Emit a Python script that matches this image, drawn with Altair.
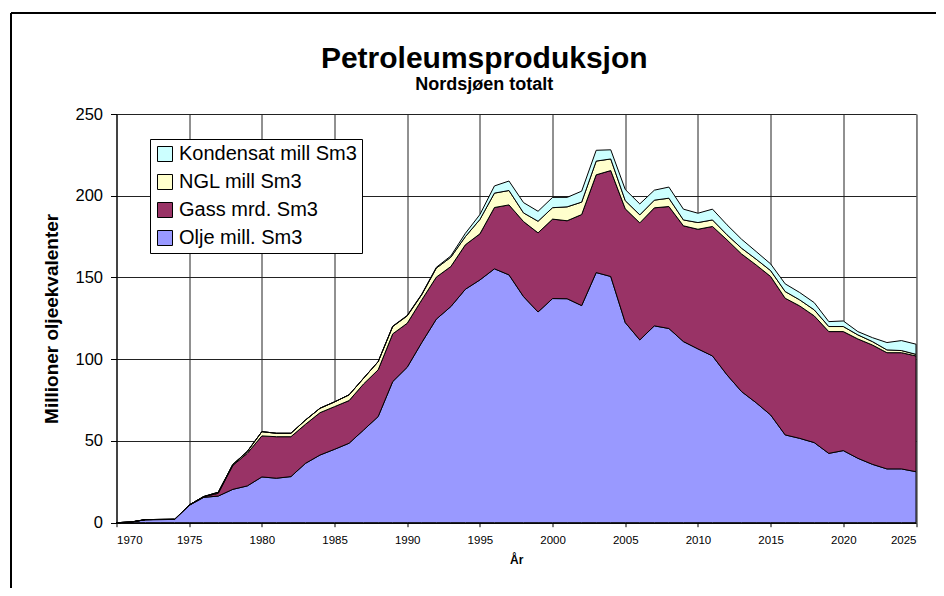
import altair as alt
import pandas as pd

years = list(range(1970, 2026))

olje = [0, 0.4, 1.8, 1.9, 2.0, 10.6, 15.5, 16.3, 20.4, 22.5,
        28.0, 27.2, 28.2, 36.3, 41.4, 44.9, 48.6, 56.7, 64.9, 86.3,
        95.1, 110.2, 124.5, 132.2, 142.8, 148.5, 155.3, 151.6, 138.3, 128.9,
        137.1, 137.0, 132.8, 153.0, 150.6, 122.4, 111.8, 120.4, 118.8, 110.8,
        106.3, 102.0, 90.4, 80.2, 73.4, 65.9, 53.7, 51.6, 49.0, 42.4,
        44.1, 39.4, 35.7, 32.9, 32.9, 31.2]
gass = [0, 0, 0.1, 0.1, 0.1, 0.2, 0.4, 1.7, 14.6, 20.0,
        25.1, 25.4, 24.4, 23.9, 25.9, 26.1, 26.1, 28.2, 28.6, 29.2,
        26.9, 26.1, 25.7, 24.5, 27.2, 28.2, 37.5, 42.8, 45.9, 48.4,
        48.6, 47.7, 55.7, 59.8, 64.8, 69.6, 71.6, 72.2, 74.6, 70.8,
        73.2, 79.2, 82.6, 84.2, 84.3, 84.7, 83.6, 81.0, 77.5, 74.5,
        72.8, 73.0, 73.0, 71.1, 71.1, 70.8]
ngl = [0, 0, 0, 0, 0, 0, 0.1, 0.6, 0.6, 1.1,
       2.6, 2.1, 2.1, 2.6, 2.7, 2.9, 3.5, 3.5, 5.0, 4.5,
       4.5, 3.2, 5.5, 5.7, 5.0, 8.8, 8.8, 8.8, 5.3, 7.1,
       7.0, 8.5, 7.6, 8.4, 7.1, 5.0, 4.9, 4.7, 5.1, 3.6,
       4.1, 4.0, 3.1, 3.5, 3.5, 3.6, 4.1, 3.7, 3.7, 3.1,
       3.1, 2.5, 2.1, 1.7, 1.3, 1.0]
kondensat = [0, 0, 0, 0, 0, 0, 0, 0, 0, 0,
             0, 0, 0, 0, 0, 0, 0, 0, 0, 0.2,
             0.3, 0.3, 0.5, 0.8, 2.0, 3.0, 4.4, 5.8, 6.3, 6.1,
             6.3, 5.8, 6.7, 6.6, 5.6, 6.8, 6.7, 6.1, 6.8, 6.6,
             5.7, 6.6, 6.1, 5.5, 4.7, 4.1, 4.7, 4.5, 4.4, 3.0,
             3.4, 2.0, 2.4, 4.5, 6.1, 6.2]

series_names = ["Olje mill. Sm3", "Gass mrd. Sm3", "NGL mill Sm3", "Kondensat mill Sm3"]
series_colors = ["#9999FF", "#993366", "#FFFFCC", "#CCFFFF"]
x_ticks = list(range(1970, 2030, 5))
y_ticks = [0, 50, 100, 150, 200, 250]

rows = []
for rank, (name, vals) in enumerate(zip(series_names, [olje, gass, ngl, kondensat])):
    for yr, v in zip(years, vals):
        rows.append({"År": yr, "serie": name, "verdi": v, "rank": rank})
df = pd.DataFrame(rows)

FONT = "Liberation Sans"

legend_order = series_names[::-1]
legend_colors = series_colors[::-1]

areas = alt.Chart(df).mark_area(
    stroke="black", strokeWidth=1, opacity=1, interpolate="linear"
).encode(
    x=alt.X("År:Q",
            scale=alt.Scale(domain=[1970, 2025], nice=False, zero=False),
            axis=alt.Axis(values=x_ticks, format="d", title="År",
                          labelFontSize=11.5, labelColor="black", labelFont=FONT,
                          tickSize=4, tickColor="black", labelPadding=8,
                          domainColor="black", gridColor="#222222", gridWidth=1,
                          titleFont=FONT, titleFontSize=12, titleFontWeight="bold",
                          titleColor="black", titlePadding=8)),
    y=alt.Y("verdi:Q", stack="zero",
            scale=alt.Scale(domain=[0, 250], nice=False),
            axis=alt.Axis(values=y_ticks, title="Millioner oljeekvalenter",
                          labelFontSize=16.5, labelColor="black", labelFont=FONT,
                          tickSize=6, tickColor="black", labelPadding=8,
                          domainColor="black", gridColor="#222222", gridWidth=1,
                          titleFont=FONT, titleFontSize=19, titleFontWeight="bold",
                          titleColor="black", titlePadding=13)),
    color=alt.Color("serie:N",
                    scale=alt.Scale(domain=legend_order, range=legend_colors),
                    legend=alt.Legend(orient="none", legendX=33.5, legendY=25,
                                      title=None, fillColor="white",
                                      strokeColor="black", padding=5,
                                      symbolType="square", symbolSize=225,
                                      symbolStrokeColor="black", symbolStrokeWidth=1,
                                      symbolOpacity=1, labelFontSize=20,
                                      labelLimit=500,
                                      labelFont=FONT, labelColor="black",
                                      labelOffset=4, rowPadding=8)),
    order=alt.Order("rank:Q", sort="ascending"),
)

one = pd.DataFrame({"a": [0]})
frame_top = alt.Chart(one).mark_rule(color="black", strokeWidth=2).encode(
    x=alt.value(-105.5), x2=alt.value(819.5), y=alt.value(-101))
frame_left = alt.Chart(one).mark_rule(color="black", strokeWidth=2).encode(
    x=alt.value(-105.5), y=alt.value(-101), y2=alt.value(474))

chart = alt.layer(areas, frame_top, frame_left).properties(
    width=799.5, height=408.7,
    autosize=alt.AutoSizeParams(type="none"),
    padding={"left": 108.5, "top": 106, "right": 20, "bottom": 65.3},
    title=alt.TitleParams(
        text="Petroleumsproduksjon", subtitle="Nordsjøen totalt",
        font=FONT, fontSize=30, fontWeight="bold", color="black",
        subtitleFont=FONT, subtitleFontSize=18, subtitleFontWeight="bold",
        subtitleColor="black", subtitlePadding=2, anchor="middle",
        dx=-32, offset=-82),
).configure_view(stroke=None).configure(background="white")

chart.save("out.html", embed_options={"renderer": "svg", "actions": False})
